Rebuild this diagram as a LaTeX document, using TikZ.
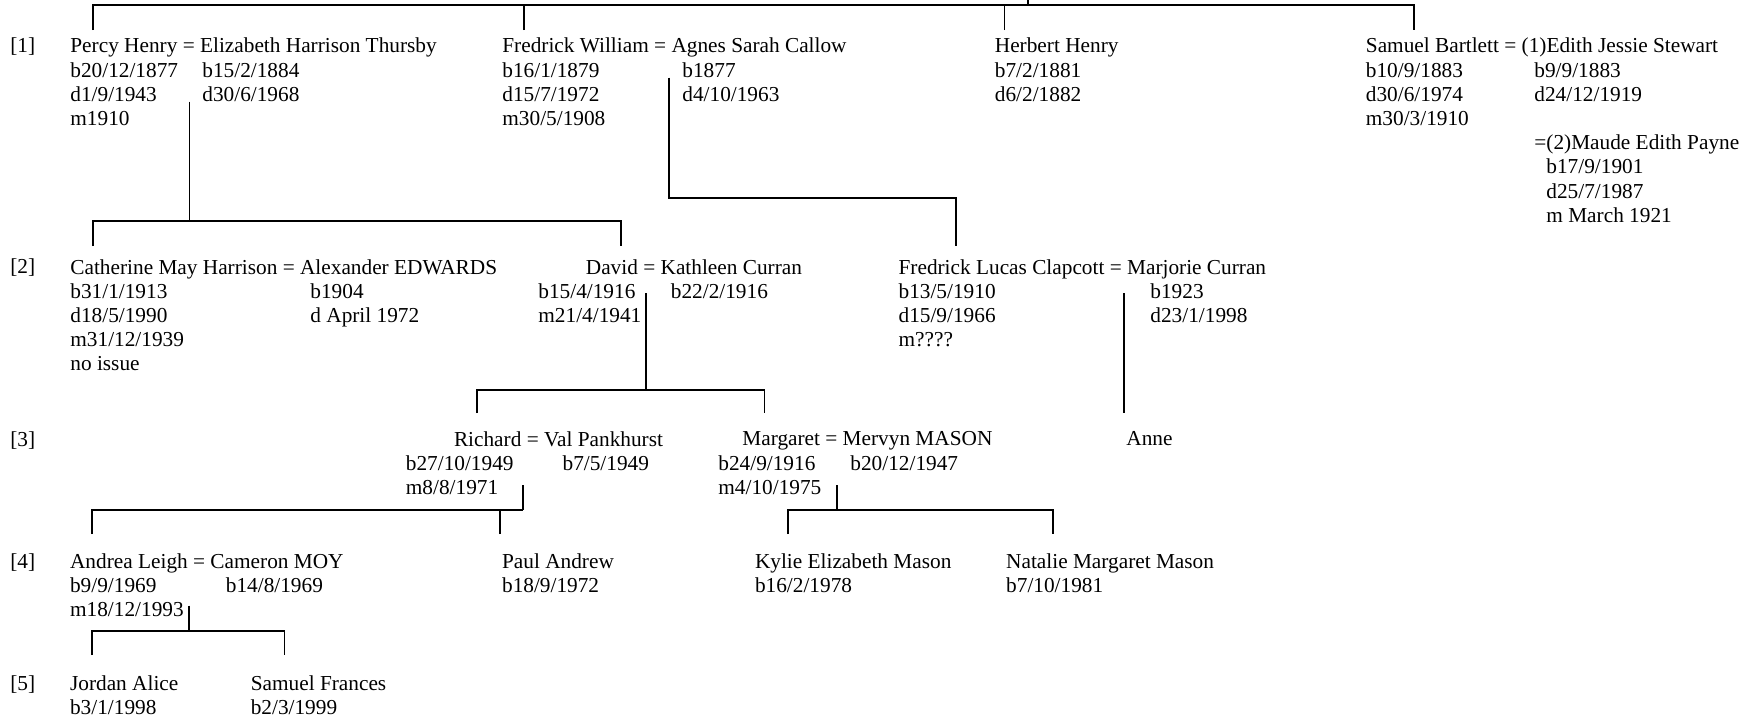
\documentclass[tikz,border=0pt]{standalone}
\usepackage{fontspec}
\setmainfont{Liberation Serif}
\usetikzlibrary{calc}
\tikzset{
    person/.style={anchor=north west, inner sep=0pt, align=left, yshift=7.4pt},
    gen/.style={anchor=base west, inner sep=0pt},
    line/.style={draw=black, line width=0.9pt}
}

\begin{document}
\begin{tikzpicture}
  [
    x                       = 0.5pt,
    y                       = -0.5pt,
    every node/.style       = {font=\fontsize{10.65}{12.1}\selectfont},
  ]
  \useasboundingbox (0,0) rectangle (1747,719);

  % generations
  \node [gen] (g1) at (10,52.5) {[1]};
  \node [gen] (g2) at (10,273.7) {[2]};
  \node [gen] (g3) at (10,446) {[3]};
  \node [gen] (g4) at (10,568) {[4]};
  \node [gen] (g5) at (10,690.3) {[5]};

  % [1]
  \node [person] (percy) at (70,52.5) {Percy Henry = Elizabeth Harrison Thursby};
  \node [person] (percy-dates) at (70,76.7) {b20/12/1877\\d1/9/1943\\m1910};
  \node [person] (eliz-dates) at (202,76.7) {b15/2/1884\\d30/6/1968};
  \node [person] (fred) at (502,52.5) {Fredrick William = Agnes Sarah Callow};
  \node [person] (fred-dates) at (502,76.7) {b16/1/1879\\d15/7/1972\\m30/5/1908};
  \node [person] (agnes-dates) at (682,76.7) {b1877\\d4/10/1963};
  \node [person] (herbert) at (994.5,52.5) {Herbert Henry\\b7/2/1881\\d6/2/1882};
  \node [person] (samuel) at (1365.5,52.5) {Samuel Bartlett = (1)Edith Jessie Stewart};
  \node [person] (samuel-dates) at (1365.5,76.7) {b10/9/1883\\d30/6/1974\\m30/3/1910};
  \node [person] (edith-dates) at (1534,76.7) {b9/9/1883\\d24/12/1919};
  \node [person] (maude) at (1534,149.3) {=(2)Maude Edith Payne};
  \node [person] (maude-dates) at (1546,173.5) {b17/9/1901\\d25/7/1987\\m March 1921};

  % [2]
  \node [person] (catherine) at (70,273.7) {Catherine May Harrison = Alexander EDWARDS};
  \node [person] (catherine-dates) at (70,297.9) {b31/1/1913\\d18/5/1990\\m31/12/1939\\no issue};
  \node [person] (alex-dates) at (310,297.9) {b1904\\d April 1972};
  \node [person] (david) at (585.5,273.7) {David = Kathleen Curran};
  \node [person] (david-dates) at (538,297.9) {b15/4/1916\\m21/4/1941};
  \node [person] (kathleen-dates) at (670.5,297.9) {b22/2/1916};
  \node [person] (fredlucas) at (898.2,273.7) {Fredrick Lucas Clapcott = Marjorie Curran};
  \node [person] (fredlucas-dates) at (898.2,297.9) {b13/5/1910\\d15/9/1966\\m????};
  \node [person] (marjorie-dates) at (1150,297.9) {b1923\\d23/1/1998};

  % [3]
  \node [person] (richard) at (453.6,446) {Richard = Val Pankhurst};
  \node [person] (richard-dates) at (405.5,470.2) {b27/10/1949\\m8/8/1971};
  \node [person] (val-dates) at (562.2,470.2) {b7/5/1949};
  \node [person] (margaret) at (742,446) {Margaret = Mervyn MASON};
  \node [person] (margaret-dates) at (718,470.2) {b24/9/1916\\m4/10/1975};
  \node [person] (mervyn-dates) at (850,470.2) {b20/12/1947};
  \node [person] (anne) at (1126,446) {Anne};

  % [4]
  \node [person] (andrea) at (69.7,568) {Andrea Leigh = Cameron MOY};
  \node [person] (andrea-dates) at (69.7,592.2) {b9/9/1969\\m18/12/1993};
  \node [person] (cameron-dates) at (225.5,592.2) {b14/8/1969};
  \node [person] (paul) at (501.7,568) {Paul Andrew\\b18/9/1972};
  \node [person] (kylie) at (754.6,568) {Kylie Elizabeth Mason\\b16/2/1978};
  \node [person] (natalie) at (1005.8,568) {Natalie Margaret Mason\\b7/10/1981};

  % [5]
  \node [person] (jordan) at (69.7,690.3) {Jordan Alice\\b3/1/1998};
  \node [person] (samfr) at (250.4,690.3) {Samuel Frances\\b2/3/1999};

  % line ends
  \coordinate (root) at (1028,0);
  \coordinate (bar0) at (1028,5);
  \coordinate (percy-in) at (93,30);
  \coordinate (fred-in) at (524,30);
  \coordinate (herbert-in) at (1004.4,30);
  \coordinate (samuel-in) at (1413.6,30);
  \coordinate (percy-out) at (189.4,101.7);
  \coordinate (percy-bar) at (189.4,221);
  \coordinate (catherine-in) at (93,246);
  \coordinate (david-in) at (621,246);
  \coordinate (fred-out) at (668.8,77.7);
  \coordinate (fred-bar) at (956.3,197.7);
  \coordinate (fredlucas-in) at (956.3,246);
  \coordinate (david-out) at (645.8,293);
  \coordinate (david-bar) at (645.8,390);
  \coordinate (richard-in) at (476.8,413);
  \coordinate (margaret-in) at (764.5,413);
  \coordinate (fredlucas-out) at (1124,293);
  \coordinate (anne-in) at (1124,413);
  \coordinate (richard-out) at (523,485);
  \coordinate (richard-bar) at (523,510);
  \coordinate (andrea-in) at (92,534);
  \coordinate (paul-in) at (500,534);
  \coordinate (margaret-out) at (836.7,485);
  \coordinate (margaret-bar) at (836.7,510);
  \coordinate (kylie-in) at (787.7,534);
  \coordinate (natalie-in) at (1053,534);
  \coordinate (andrea-out) at (189,605.7);
  \coordinate (andrea-bar) at (189,630.7);
  \coordinate (jordan-in) at (92,655);
  \coordinate (samfr-in) at (284.4,655);

  % lines
  \draw [line] (bar0) -- (root);
  \draw [line] (percy-in) |- (bar0) -| (samuel-in);
  \draw [line] (fred-in) -- (fred-in |- bar0);
  \draw [line] (herbert-in) -- (herbert-in |- bar0);
  \draw [line] (percy-out) -- (percy-bar);
  \draw [line] (catherine-in) |- (percy-bar) -| (david-in);
  \draw [line] (fred-out) |- (fred-bar) -- (fredlucas-in);
  \draw [line] (david-out) -- (david-bar);
  \draw [line] (richard-in) |- (david-bar) -| (margaret-in);
  \draw [line] (fredlucas-out) -- (anne-in);
  \draw [line] (richard-out) -- (richard-bar);
  \draw [line] (andrea-in) |- (richard-bar);
  \draw [line] (paul-in) -- (paul-in |- richard-bar);
  \draw [line] (margaret-out) -- (margaret-bar);
  \draw [line] (kylie-in) |- (margaret-bar) -| (natalie-in);
  \draw [line] (andrea-out) -- (andrea-bar);
  \draw [line] (jordan-in) |- (andrea-bar) -| (samfr-in);
\end{tikzpicture}
\end{document}
